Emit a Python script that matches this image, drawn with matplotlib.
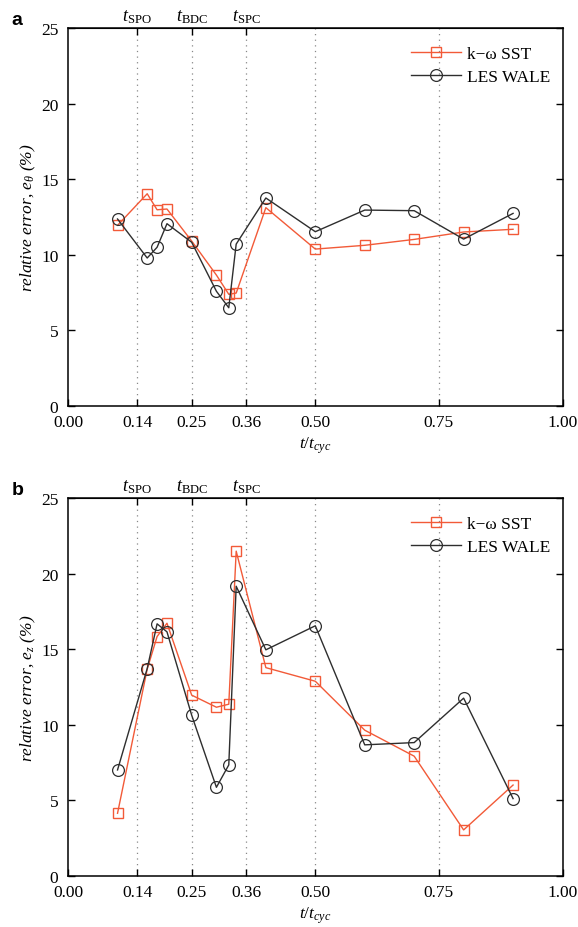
import matplotlib
matplotlib.use('Agg')
import matplotlib.pyplot as plt
import numpy as np

plt.rcParams['font.family'] = ['Liberation Serif', 'DejaVu Serif']
plt.rcParams['mathtext.fontset'] = 'custom'
plt.rcParams['mathtext.rm'] = 'Liberation Serif'
plt.rcParams['mathtext.it'] = 'Liberation Serif:italic'
plt.rcParams['font.size'] = 12

# time instants t/t_cyc
t = [0.10, 0.16, 0.18, 0.20, 0.25, 0.30, 0.325, 0.34, 0.40, 0.50, 0.60, 0.70, 0.80, 0.90]

# panel a: relative error e_theta (%)
sst_theta = [11.95, 14.04, 12.98, 13.03, 10.91, 8.66, 7.39, 7.47, 13.12, 10.38, 10.63, 11.02, 11.51, 11.69]
les_theta = [12.37, 9.79, 10.5, 12.06, 10.83, 7.59, 6.5, 10.71, 13.76, 11.53, 12.96, 12.92, 11.04, 12.74]

# panel b: relative error e_z (%)
sst_z = [4.13, 13.67, 15.83, 16.71, 11.95, 11.15, 11.35, 21.48, 13.77, 12.87, 9.63, 7.91, 3.03, 6.0]
les_z = [7.0, 13.71, 16.67, 16.14, 10.62, 5.85, 7.33, 19.16, 14.95, 16.54, 8.66, 8.81, 11.75, 5.1]

xticks = [0.0, 0.14, 0.25, 0.36, 0.50, 0.75, 1.00]
xticklabels = ['0.00', '0.14', '0.25', '0.36', '0.50', '0.75', '1.00']
grid_x = [0.14, 0.25, 0.36, 0.50, 0.75]
top_ticks = [0.14, 0.25, 0.36]
top_labels = [r'$t_{\mathrm{SPO}}$', r'$t_{\mathrm{BDC}}$', r'$t_{\mathrm{SPC}}$']

red = '#f25a38'
dark = '#2e2e2e'

fig = plt.figure(figsize=(5.78, 9.28), dpi=100)
ax1 = fig.add_axes([0.1178, 0.5614, 0.8554, 0.4073])
ax2 = fig.add_axes([0.1178, 0.0553, 0.8554, 0.4070])


def draw(ax, sst, les, ylabel, letter):
    for gx in grid_x:
        ax.axvline(gx, color='#888888', linestyle=(0, (1, 3.5)), linewidth=0.9, zorder=0)
    ax.plot(t, sst, color=red, linewidth=1.0, marker='s', markersize=7,
            markerfacecolor='none', markeredgecolor=red, markeredgewidth=1.0, label='k\u2212\u03c9 SST')
    ax.plot(t, les, color=dark, linewidth=1.0, marker='o', markersize=8.5,
            markerfacecolor='none', markeredgecolor=dark, markeredgewidth=0.9, label='LES WALE')
    ax.set_xlim(0, 1)
    ax.set_ylim(0, 25)
    ax.set_xticks(xticks)
    ax.set_xticklabels(xticklabels)
    ax.set_yticks([0, 5, 10, 15, 20, 25])
    ax.tick_params(direction='in', length=5, width=1, right=True, labelsize=12.5)
    ax.tick_params(axis='x', pad=6)
    ax.tick_params(axis='y', pad=7)
    for sp in ax.spines.values():
        sp.set_linewidth(1.1)
    ax.set_xlabel(r'$t/t_{cyc}$', fontsize=12.5, labelpad=3)
    ax.set_ylabel(ylabel, fontsize=12.5, fontstyle='italic', labelpad=2)
    sec = ax.secondary_xaxis('top')
    sec.set_xticks(top_ticks)
    sec.set_xticklabels(top_labels)
    sec.tick_params(direction='in', length=5, width=1, labelsize=13, pad=2)
    ax.legend(loc='upper right', bbox_to_anchor=(1.0, 0.985), frameon=False, fontsize=12.5,
              handlelength=2.9, handletextpad=0.35, labelspacing=0.4, borderaxespad=0.3)
    ax.text(-0.115, 1.0, letter, transform=ax.transAxes, fontsize=14, fontweight='bold',
            family='Liberation Sans', ha='left', va='bottom')


draw(ax1, sst_theta, les_theta, r'relative error, $e_{\theta}$ (%)', 'a')
draw(ax2, sst_z, les_z, r'relative error, $e_{z}$ (%)', 'b')

fig.savefig('out.png', dpi=100)
